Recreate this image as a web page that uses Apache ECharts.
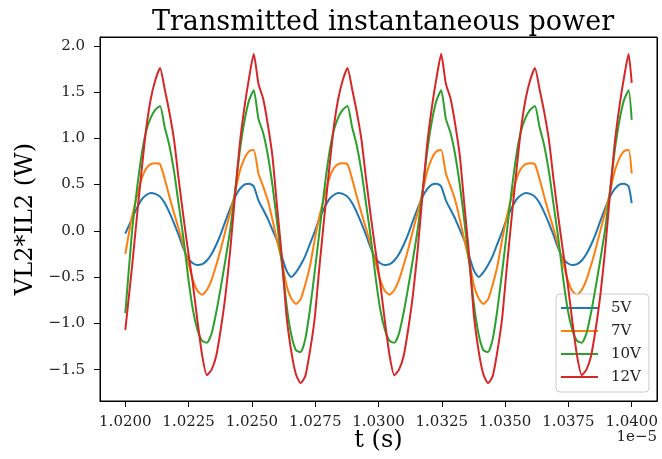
<!DOCTYPE html>
<html><head><meta charset="utf-8">
<script src="https://cdn.jsdelivr.net/npm/echarts@6/dist/echarts.min.js"></script>
<style>html,body{margin:0;padding:0;background:#fff}#c{width:662px;height:459px}</style>
</head><body><div id="c"></div>
<script>
// time in units of 1e-5 s
const time = [
1.020000,1.020261,1.020446,1.020631,1.020816,1.021001,1.021186,1.021371,1.021556,1.021741,
1.021926,1.022111,1.022296,1.022481,1.022667,1.022852,1.023037,1.023222,1.023407,1.023592,
1.023777,1.023962,1.024147,1.024332,1.024517,1.024702,1.024887,1.025072,1.025258,1.025443,
1.025628,1.025813,1.025998,1.026183,1.026368,1.026553,1.026738,1.026923,1.027108,1.027293,
1.027478,1.027663,1.027849,1.028034,1.028219,1.028404,1.028589,1.028774,1.028959,1.029144,
1.029329,1.029514,1.029699,1.029884,1.030069,1.030254,1.030439,1.030625,1.030810,1.030995,
1.031180,1.031365,1.031550,1.031735,1.031920,1.032105,1.032290,1.032475,1.032660,1.032845,
1.033030,1.033216,1.033401,1.033586,1.033771,1.033956,1.034141,1.034326,1.034511,1.034696,
1.034881,1.035066,1.035251,1.035436,1.035621,1.035807,1.035992,1.036177,1.036362,1.036547,
1.036732,1.036917,1.037102,1.037287,1.037472,1.037657,1.037842,1.038027,1.038212,1.038398,
1.038583,1.038768,1.038953,1.039138,1.039323,1.039508,1.039693,1.039878,1.040000];

const p5V = [
-0.03,
0.13,0.24,0.335,0.385,0.41,0.40,
0.37,0.30,0.20,0.08,-0.05,-0.19,-0.30,-0.35,-0.37,-0.36,-0.32,-0.25,-0.15,-0.03,0.11,0.245,0.365,0.45,0.50,0.51,
0.48,0.33,0.23,0.13,0.01,-0.11,-0.28,-0.43,-0.50,-0.45,-0.37,-0.27,-0.14,-0.01,0.13,0.24,0.335,0.385,0.41,0.40,
0.37,0.30,0.20,0.08,-0.05,-0.19,-0.30,-0.35,-0.37,-0.36,-0.32,-0.25,-0.15,-0.03,0.11,0.245,0.365,0.45,0.50,0.51,
0.48,0.33,0.23,0.13,0.01,-0.11,-0.28,-0.43,-0.50,-0.45,-0.37,-0.27,-0.14,-0.01,0.13,0.24,0.335,0.385,0.41,0.40,
0.37,0.30,0.20,0.08,-0.05,-0.19,-0.30,-0.35,-0.37,-0.36,-0.32,-0.25,-0.15,-0.03,0.11,0.245,0.365,0.45,0.50,0.51,
0.48,
0.30];

const p7V = [
-0.25,
0.15,0.36,0.55,0.67,0.72,0.73,
0.72,0.56,0.37,0.19,0.02,-0.16,-0.34,-0.53,-0.65,-0.69,-0.64,-0.53,-0.37,-0.19,0.01,0.20,0.41,0.64,0.78,0.86,
0.875,0.62,0.48,0.33,0.12,-0.11,-0.33,-0.59,-0.73,-0.79,-0.74,-0.58,-0.38,-0.10,0.15,0.36,0.55,0.67,0.72,0.73,
0.72,0.56,0.37,0.19,0.02,-0.16,-0.34,-0.53,-0.65,-0.69,-0.64,-0.53,-0.37,-0.19,0.01,0.20,0.41,0.64,0.78,0.86,
0.875,0.62,0.48,0.33,0.12,-0.11,-0.33,-0.59,-0.73,-0.79,-0.74,-0.58,-0.38,-0.10,0.15,0.36,0.55,0.67,0.72,0.73,
0.72,0.56,0.37,0.19,0.02,-0.16,-0.34,-0.53,-0.65,-0.69,-0.64,-0.53,-0.37,-0.19,0.01,0.20,0.41,0.64,0.78,0.86,
0.875,
0.62];

const p10V = [
-0.89,
-0.02,0.42,0.80,1.07,1.22,1.31,
1.35,1.12,0.92,0.64,0.28,-0.08,-0.50,-0.85,-1.07,-1.19,-1.21,-1.11,-0.88,-0.60,-0.30,0.02,0.42,0.85,1.18,1.41,
1.52,1.21,1.06,0.82,0.49,0.08,-0.35,-0.80,-1.12,-1.29,-1.31,-1.17,-0.85,-0.45,-0.02,0.42,0.80,1.07,1.22,1.31,
1.35,1.12,0.92,0.64,0.28,-0.08,-0.50,-0.85,-1.07,-1.19,-1.21,-1.11,-0.88,-0.60,-0.30,0.02,0.42,0.85,1.18,1.41,
1.52,1.21,1.06,0.82,0.49,0.08,-0.35,-0.80,-1.12,-1.29,-1.31,-1.17,-0.85,-0.45,-0.02,0.42,0.80,1.07,1.22,1.31,
1.35,1.12,0.92,0.64,0.28,-0.08,-0.50,-0.85,-1.07,-1.19,-1.21,-1.11,-0.88,-0.60,-0.30,0.02,0.42,0.85,1.18,1.41,
1.52,
1.20];

const p12V = [
-1.07,
-0.40,0.12,0.62,1.087,1.42,1.63,
1.76,1.53,1.28,0.98,0.55,0.15,-0.22,-0.57,-0.98,-1.35,-1.56,-1.50,-1.35,-1.05,-0.68,-0.20,0.38,0.93,1.33,1.65,
1.91,1.59,1.43,1.15,0.80,0.25,-0.28,-0.92,-1.30,-1.55,-1.645,-1.57,-1.30,-0.95,-0.40,0.12,0.62,1.087,1.42,1.63,
1.76,1.53,1.28,0.98,0.55,0.15,-0.22,-0.57,-0.98,-1.35,-1.56,-1.50,-1.35,-1.05,-0.68,-0.20,0.38,0.93,1.33,1.65,
1.91,1.59,1.43,1.15,0.80,0.25,-0.28,-0.92,-1.30,-1.55,-1.645,-1.57,-1.30,-0.95,-0.40,0.12,0.62,1.087,1.42,1.63,
1.76,1.53,1.28,0.98,0.55,0.15,-0.22,-0.57,-0.98,-1.35,-1.56,-1.50,-1.35,-1.05,-0.68,-0.20,0.38,0.93,1.33,1.65,
1.91,
1.60];

const seriesNames = ['5V', '7V', '10V', '12V'];
const xTicks = [1.0200, 1.0225, 1.0250, 1.0275, 1.0300, 1.0325, 1.0350, 1.0375, 1.0400];
const yTicks = [-1.5, -1.0, -0.5, 0.0, 0.5, 1.0, 1.5, 2.0];

const colors = ['#1f77b4', '#ff7f0e', '#2ca02c', '#d62728'];
const FONT = 'DejaVu Serif';
const allValues = [p5V, p7V, p10V, p12V];
const X_MIN = 1.019, X_MAX = 1.041, Y_MIN = -1.839, Y_MAX = 2.095;
const GRID = {left: 100, right: 5, top: 37, bottom: 58};
const W = 662, H = 459;
const gx0 = GRID.left + 0.5, gx1 = W - GRID.right + 0.5, gy0 = GRID.top + 0.5, gy1 = H - GRID.bottom + 0.5;

const chart = echarts.init(document.getElementById('c'));
chart.setOption({
  animation: false,
  backgroundColor: '#fff',
  title: {
    text: 'Transmitted instantaneous power',
    left: 378, top: 4, textAlign: 'center',
    textStyle: {fontFamily: FONT, fontSize: 27, fontWeight: 'normal', color: '#000'}
  },
  grid: {left: GRID.left, right: GRID.right, top: GRID.top, bottom: GRID.bottom,
         show: true, borderColor: '#000', borderWidth: 1},
  xAxis: {
    type: 'value', min: X_MIN, max: X_MAX,
    axisLine: {show: true, onZero: false, lineStyle: {color: '#000', width: 1}},
    axisTick: {show: true, length: 6, lineStyle: {color: '#000', width: 1}, customValues: xTicks},
    axisLabel: {customValues: xTicks, formatter: v => v.toFixed(4), margin: 13,
      fontFamily: FONT, fontSize: 15, lineHeight: 16, color: '#222'},
    splitLine: {show: false}
  },
  yAxis: {
    type: 'value', min: Y_MIN, max: Y_MAX,
    axisLine: {show: true, onZero: false, lineStyle: {color: '#000', width: 1}},
    axisTick: {show: true, length: 6, lineStyle: {color: '#000', width: 1}, customValues: yTicks},
    axisLabel: {customValues: yTicks, formatter: v => v.toFixed(1).replace('-', '\u2212'), margin: 15,
      fontFamily: FONT, fontSize: 15, color: '#222'},
    splitLine: {show: false},
    name: 'VL2*IL2 (W)', nameLocation: 'middle', nameGap: 60, nameRotate: 90,
    nameTextStyle: {fontFamily: FONT, fontSize: 24, lineHeight: 24, color: '#000'}
  },
  legend: {
    orient: 'vertical', left: 556, top: 294,
    data: seriesNames,
    icon: 'rect',
    itemWidth: 37, itemHeight: 2.2, itemGap: 7,
    padding: [6, 8, 7, 5],
    backgroundColor: 'rgba(255,255,255,0.8)', borderColor: '#ccc', borderWidth: 1, borderRadius: 4,
    textStyle: {fontFamily: FONT, fontSize: 15, lineHeight: 16, color: '#222', padding: [0, 0, 0, 8]}
  },
  graphic: {elements: [
    {type: 'text', right: 5, top: 430,
     style: {text: '1e\u22125', font: '15px "DejaVu Serif"', fill: '#222'}},
    {type: 'text', x: (GRID.left + W - GRID.right) / 2, y: 429,
     style: {text: 't (s)', font: '24px "DejaVu Serif"', fill: '#000', align: 'center', verticalAlign: 'top'}},
    {type: 'polyline', shape: {points: [[gx0, gy0], [gx1, gy0], [gx1, gy1]]},
     style: {stroke: '#000', lineWidth: 1, fill: null}}
  ]},
  series: seriesNames.map((name, s) => ({
    name, type: 'line', symbol: 'none', showSymbol: false, smooth: 0.2,
    data: time.map((t, i) => [t, allValues[s][i]]),
    lineStyle: {color: colors[s], width: 2},
    itemStyle: {color: colors[s]},
    z: 2 + s
  }))
});
</script></body></html>
